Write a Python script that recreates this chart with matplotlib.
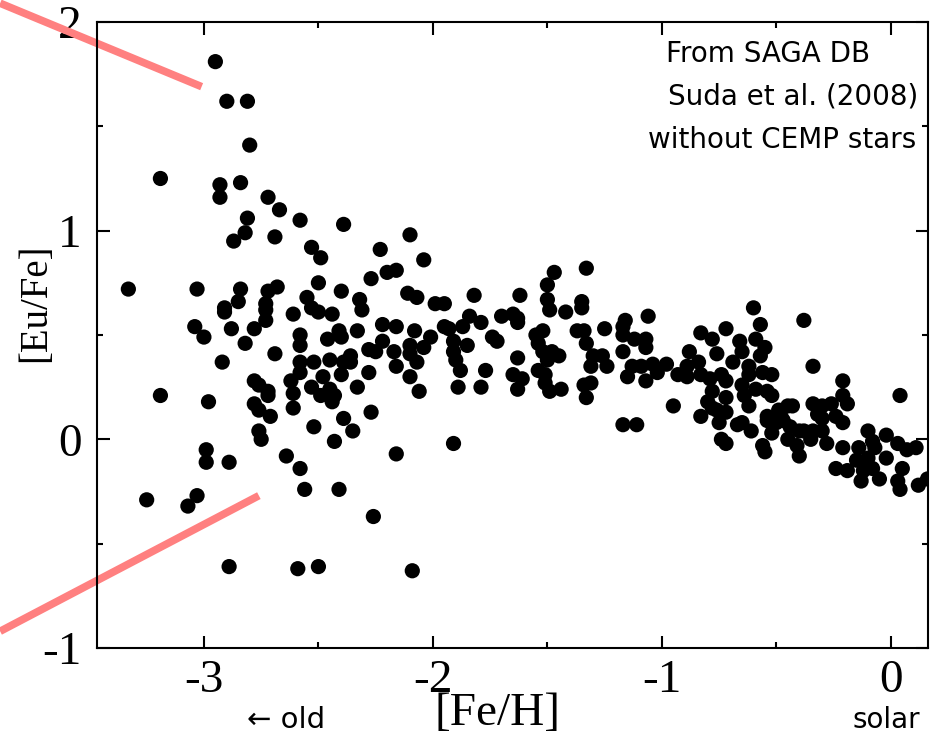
import matplotlib
matplotlib.use('Agg')
import matplotlib.pyplot as plt
from matplotlib.ticker import MultipleLocator

plt.rcParams['axes.unicode_minus'] = False

# [Fe/H] and [Eu/Fe] of the stars
feh = [-3.33, -3.19, -3.19, -3.25, -3.07, -3.03, -2.95, -2.90, -2.81, -2.80,
       -2.93, -2.84, -2.93, -2.72, -2.67, -2.81, -2.58, -2.82, -2.87, -2.69,
       -2.53, -3.03, -2.84, -2.72, -2.68, -2.85, -2.91, -2.91, -2.73, -2.73,
       -2.73, -2.61, -2.55, -2.53, -3.04, -3.00, -2.88, -2.78, -2.82, -2.69,
       -2.58, -2.58, -2.92, -2.58, -2.58, -2.52, -2.78, -2.76, -2.72, -2.72,
       -2.62, -2.61, -2.53, -2.98, -2.78, -2.76, -2.71, -2.61, -2.52, -2.76,
       -2.75, -2.99, -2.99, -2.89, -2.64, -2.58, -2.56, -2.89, -2.59, -2.16,
       -1.91, -2.41, -2.26, -2.50, -2.09, -2.46, -2.41, -2.40, -2.33, -2.22,
       -2.16, -2.08, -2.22, -2.17, -2.25, -2.28, -2.10, -2.10, -2.04, -2.01,
       -2.07, -2.16, -2.10, -2.06, -2.45, -2.39, -2.36, -2.36, -2.48, -2.40,
       -2.28, -2.49, -2.45, -2.43, -2.44, -2.33, -2.27, -2.39, -2.35, -2.43,
       -1.95, -1.93, -1.87, -1.79, -1.74, -1.72, -1.91, -1.85, -1.91, -1.90,
       -1.88, -1.77, -1.89, -1.79, -1.65, -1.63, -1.63, -2.39, -2.10, -2.49,
       -2.23, -2.04, -2.50, -2.40, -2.27, -2.20, -2.16, -2.50, -2.44, -2.32,
       -2.31, -2.11, -2.07, -1.99, -1.95, -1.82, -1.62, -1.84, -1.70, -1.65,
       -1.63, -1.47, -1.33, -1.50, -1.50, -1.49, -1.42, -1.35, -1.35, -1.63,
       -1.52, -1.55, -1.54, -1.52, -1.48, -1.45, -1.50, -1.37, -1.34, -1.33,
       -1.25, -1.16, -1.17, -1.17, -1.06, -1.12, -1.07, -1.07, -1.17, -1.30,
       -1.26, -1.31, -1.24, -1.13, -1.09, -1.04, -0.98, -1.15, -1.07, -1.02,
       -1.54, -1.51, -1.61, -1.51, -1.49, -1.44, -1.34, -1.31, -1.33, -0.95,
       -0.88, -0.83, -0.78, -0.76, -0.72, -0.84, -0.89, -0.93, -0.89, -0.83,
       -0.79, -0.74, -0.72, -0.78, -0.80, -0.76, -0.83, -0.72, -1.17, -1.11,
       -0.78, -0.72, -0.75, -0.74, -0.72, -0.60, -0.38, -0.57, -0.66, -0.59,
       -0.55, -0.65, -0.57, -0.69, -0.34, -0.62, -0.62, -0.56, -0.52, -0.65,
       -0.59, -0.54, -0.52, -0.21, 0.04, -0.64, -0.62, -0.34, -0.30, -0.26,
       -0.21, -0.19, -0.45, -0.43, -0.49, -0.48, -0.54, -0.32, -0.30, -0.24,
       -0.21, -0.54, -0.50, -0.47, -0.44, -0.40, -0.34, -0.30, -0.67, -0.65,
       -0.61, -0.52, -0.45, -0.41, -0.38, -0.10, -0.02, -0.08, -0.07, -0.14,
       -0.21, 0.03, 0.07, 0.11, -0.28, -0.35, -0.56, -0.55, -0.40, -0.02,
       -0.15, -0.10, -0.24, -0.19, -0.13, -0.05, 0.05, 0.03, 0.04, 0.12,
       0.16, -0.12, -0.08]
eu_fe = [0.72, 1.25, 0.21, -0.29, -0.32, -0.27, 1.81, 1.62, 1.62, 1.41,
         1.22, 1.23, 1.16, 1.16, 1.10, 1.06, 1.05, 0.99, 0.95, 0.97,
         0.92, 0.72, 0.72, 0.71, 0.73, 0.66, 0.63, 0.61, 0.65, 0.62,
         0.57, 0.60, 0.68, 0.63, 0.54, 0.49, 0.53, 0.53, 0.46, 0.41,
         0.50, 0.45, 0.37, 0.37, 0.32, 0.37, 0.28, 0.26, 0.23, 0.21,
         0.28, 0.22, 0.25, 0.18, 0.17, 0.14, 0.11, 0.15, 0.06, 0.04,
         0.00, -0.05, -0.11, -0.11, -0.08, -0.14, -0.24, -0.61, -0.62, -0.07,
         -0.02, -0.24, -0.37, -0.61, -0.63, 0.48, 0.52, 0.49, 0.52, 0.55,
         0.54, 0.52, 0.47, 0.42, 0.42, 0.43, 0.45, 0.41, 0.44, 0.49,
         0.37, 0.35, 0.30, 0.23, 0.38, 0.37, 0.40, 0.37, 0.30, 0.31,
         0.32, 0.21, 0.24, 0.21, 0.18, 0.25, 0.13, 0.10, 0.04, -0.01,
         0.54, 0.53, 0.54, 0.56, 0.49, 0.47, 0.47, 0.45, 0.42, 0.38,
         0.33, 0.33, 0.25, 0.25, 0.31, 0.24, 0.39, 1.03, 0.98, 0.87,
         0.91, 0.86, 0.75, 0.71, 0.77, 0.80, 0.81, 0.61, 0.60, 0.67,
         0.62, 0.70, 0.68, 0.65, 0.65, 0.69, 0.69, 0.59, 0.59, 0.60,
         0.56, 0.80, 0.82, 0.74, 0.67, 0.62, 0.61, 0.66, 0.63, 0.58,
         0.52, 0.50, 0.46, 0.42, 0.42, 0.40, 0.38, 0.52, 0.52, 0.46,
         0.53, 0.57, 0.54, 0.50, 0.59, 0.48, 0.48, 0.44, 0.42, 0.40,
         0.40, 0.35, 0.35, 0.35, 0.35, 0.36, 0.36, 0.30, 0.28, 0.32,
         0.33, 0.31, 0.29, 0.27, 0.23, 0.24, 0.26, 0.27, 0.20, 0.16,
         0.42, 0.51, 0.48, 0.41, 0.53, 0.37, 0.35, 0.31, 0.30, 0.31,
         0.29, 0.31, 0.28, 0.23, 0.18, 0.14, 0.11, 0.20, 0.07, 0.07,
         0.15, 0.13, 0.08, 0.00, -0.02, 0.63, 0.57, 0.55, 0.47, 0.48,
         0.44, 0.42, 0.40, 0.37, 0.35, 0.35, 0.31, 0.32, 0.31, 0.26,
         0.24, 0.23, 0.21, 0.28, 0.21, 0.21, 0.16, 0.17, 0.16, 0.17,
         0.21, 0.17, 0.16, 0.16, 0.14, 0.11, 0.11, 0.12, 0.10, 0.11,
         0.08, 0.09, 0.08, 0.09, 0.06, 0.04, 0.04, 0.04, 0.07, 0.08,
         0.04, 0.03, 0.00, -0.03, 0.04, 0.04, 0.02, -0.01, -0.04, -0.04,
         -0.04, -0.02, -0.05, -0.04, -0.02, 0.00, -0.03, -0.06, -0.08, -0.09,
         -0.10, -0.09, -0.14, -0.15, -0.20, -0.19, -0.14, -0.20, -0.24, -0.22,
         -0.19, -0.15, -0.14]

# the two pink guide lines (they run out past the left edge of the frame)
upper_x = [-3.89, -3.01]
upper_y = [2.09, 1.69]
lower_x = [-3.89, -2.76]
lower_y = [-0.92, -0.27]

xticks = [-3, -2, -1, 0]
yticks = [-1, 0, 1, 2]
note_lines = ['From SAGA DB', 'Suda et al. (2008)', 'without CEMP stars']

fig = plt.figure(figsize=(9.38, 7.43), dpi=100)
ax = fig.add_axes([0.1034, 0.1279, 0.8859, 0.8425])

ax.scatter(feh, eu_fe, s=120, c='black', edgecolors='none', zorder=3)
ax.plot(upper_x, upper_y, color='#ff8080', lw=5.5, solid_capstyle='butt', clip_on=False, zorder=2)
ax.plot(lower_x, lower_y, color='#ff8080', lw=5.5, solid_capstyle='butt', clip_on=False, zorder=2)

ax.set_xlim(-3.467, 0.162)
ax.set_ylim(-1, 2)
ax.set_xticks(xticks)
ax.set_yticks(yticks)
ax.set_xticklabels([str(t) for t in xticks])
ax.set_yticklabels([str(t) for t in yticks])
ax.xaxis.set_minor_locator(MultipleLocator(0.5))
ax.yaxis.set_minor_locator(MultipleLocator(0.5))
ax.tick_params(which='both', direction='in', top=True, right=True, width=1.5)
ax.tick_params(which='major', length=9)
ax.tick_params(which='minor', length=4.5)
ax.tick_params(axis='x', which='major', pad=8)
ax.tick_params(axis='y', which='major', pad=11)
for lab in ax.get_xticklabels() + ax.get_yticklabels():
    lab.set_fontfamily('Liberation Serif')
    lab.set_fontsize(34)
for sp in ax.spines.values():
    sp.set_linewidth(1.5)

fig.text(36 / 938, 1 - 303 / 743, '[Eu/Fe]', rotation=90, ha='center', va='center',
         fontsize=28, family='Liberation Serif')
fig.text(497 / 938, 1 - 714 / 743, '[Fe/H]', ha='center', va='center',
         fontsize=34, family='Liberation Serif')
fig.text(247 / 938, 1 - 720 / 743, '\u2190 old', ha='left', va='center', fontsize=21)
fig.text(920 / 938, 1 - 720 / 743, 'solar', ha='right', va='center', fontsize=20)

fig.text(666 / 938, 1 - 62 / 743, note_lines[0], ha='left', va='baseline', fontsize=20)
fig.text(918 / 938, 1 - 105 / 743, note_lines[1], ha='right', va='baseline', fontsize=20)
fig.text(916 / 938, 1 - 148 / 743, note_lines[2], ha='right', va='baseline', fontsize=20)

fig.savefig('out.png', dpi=100)
